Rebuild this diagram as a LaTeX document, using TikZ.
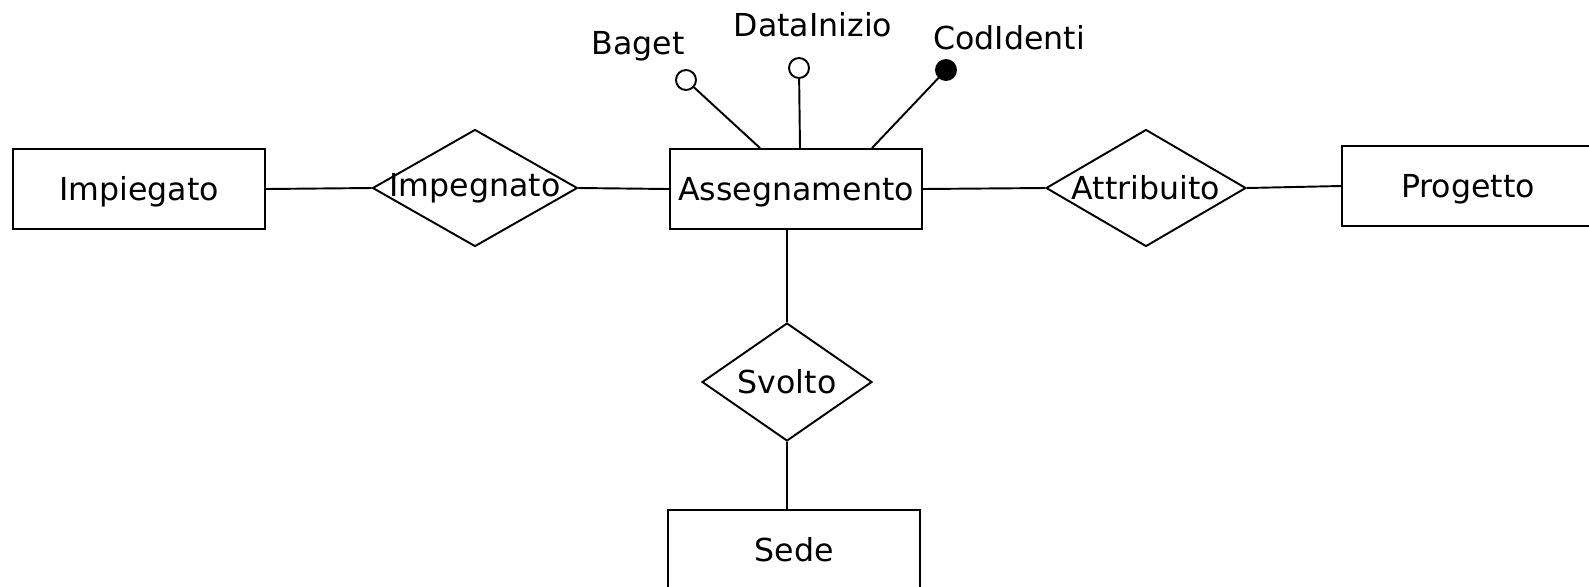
\documentclass[tikz,border=0pt]{standalone}
\usepackage{fontspec}
\setmainfont{DejaVu Sans}
\usetikzlibrary{shapes.geometric}
\tikzset{
	txt/.style={text height=13pt,text depth=0pt},
	entity/.style={draw,rectangle,txt,minimum width=5.04cm,minimum height=1.6cm},
	relation/.style={draw,diamond,inner sep=0pt,minimum height=2.34cm,every label/.style={txt}},
	attr/.style={draw,circle,fill=white,inner sep=0pt,minimum size=0.4cm},
	keyattr/.style={attr,fill=black}
}
\begin{document}
\begin{tikzpicture}[x=0.02cm,y=-0.02cm,line width=1.1pt,font=\fontsize{18}{22}\selectfont]
		\clip (0,0) rectangle (1589,586);
		\path
		(139,189) node[entity] (Impiegato) {Impiegato}
		(475,188) node[relation,minimum width=4.1cm,label=center:Impegnato] (Impegnato) {}
		(796,189) node[entity] (Assegnamento) {Assegnamento}
		(1146,188) node[relation,minimum width=4cm,label=center:Attribuito] (Attribuito) {}
		(1468,186) node[entity] (Progetto) {Progetto}
		(787,382) node[relation,minimum width=3.4cm,minimum height=2.36cm,label=center:Svolto] (Svolto) {}
		(794,550) node[entity] (Sede) {Sede}
		;
		\path
		([xshift=-0.72cm]Assegnamento.north) coordinate (bagetfoot)
		([xshift=0.08cm]Assegnamento.north) coordinate (datafoot)
		([xshift=1.52cm]Assegnamento.north) coordinate (codfoot)
		(686,80) node[attr] (bagetdot) {}
		(799,68) node[attr] (datadot) {}
		(946,70) node[keyattr] (coddot) {}
		(638,54) node[anchor=base] (bagetlbl) {Baget}
		(813,36) node[anchor=base] (datalbl) {DataInizio}
		(1009,49) node[anchor=base] (codlbl) {CodIdenti}
		;
		\draw
		(Impiegato.east)--(Impegnato.west)
		(Impegnato.east)--(Assegnamento.west)
		(Assegnamento.east)--(Attribuito.west)
		(Attribuito.east)--(Progetto.west)
		(Svolto.north)--(Svolto.north |- Assegnamento.south)
		(Svolto.south)--(Svolto.south |- Sede.north)
		(bagetdot)--(bagetfoot)
		(datadot)--(datafoot)
		(coddot)--(codfoot);
	
\end{tikzpicture}
\end{document}
